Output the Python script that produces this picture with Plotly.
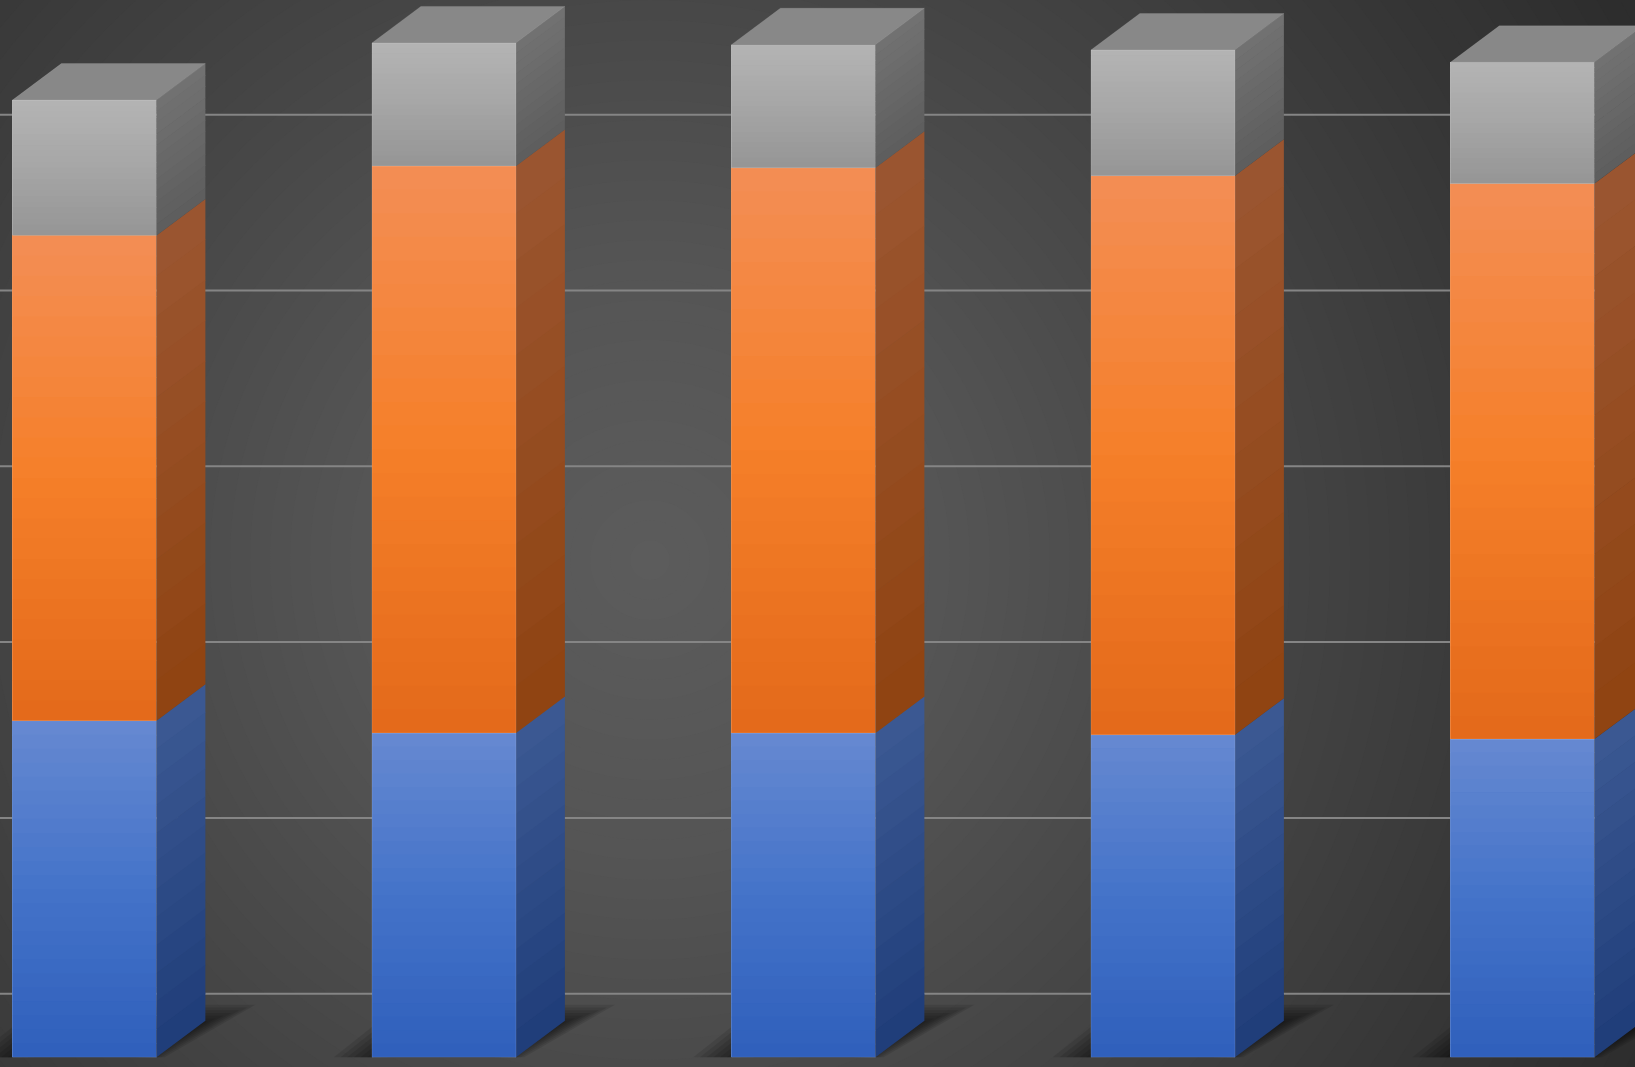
import plotly.graph_objects as go

# ── Dados ──────────────────────────────────────────────────────────────────────
categorias    = ["Cat 1", "Cat 2", "Cat 3", "Cat 4", "Cat 5"]
serie_azul    = [38.3, 36.9, 36.9, 36.7, 36.2]
serie_laranja = [55.2, 64.5, 64.3, 63.6, 63.2]
serie_cinza   = [15.4, 14.0, 14.0, 14.3, 13.8]
grade_vals    = [0, 20, 40, 60, 80, 100]

# ── Estilo ─────────────────────────────────────────────────────────────────────
W, H     = 1635, 1067
BAR_W    = 0.4006       # largura da face frontal (unidades de x)
DX, DY   = 0.136, 4.15  # profundidade 3D
WALL_DY  = 7.24         # deslocamento da parede do fundo
X_RANGE  = [-0.235, 4.313]
Y_RANGE  = [-1.10, 120.28]
N_FRENTE = 24
N_LADO   = 12

ESTILOS = [
    # (frente: topo, meio, base), (lado: topo, base), cor média
    (["#6689d1", "#4473c9", "#2f5fbb"], ["#3c5993", "#1f3d79"], "#4472c4"),
    (["#f38e55", "#f57f29", "#e3691a"], ["#9b5631", "#8f4311"], "#ed7d31"),
    (["#b4b4b4", "#a6a6a6", "#959595"], ["#727272", "#5d5d5d"], "#a5a5a5"),
]
COR_TOPO  = "#888888"
COR_GRADE = "#858585"


def _hex_rgb(h):
    h = h.lstrip("#")
    return tuple(int(h[i:i + 2], 16) for i in (0, 2, 4))


def _mix(stops, t):
    """Interpola entre cores igualmente espaçadas; t=0 topo, t=1 base."""
    n = len(stops) - 1
    k = min(int(t * n), n - 1)
    f = t * n - k
    a, b = _hex_rgb(stops[k]), _hex_rgb(stops[k + 1])
    return "rgb({},{},{})".format(*(round(a[j] + (b[j] - a[j]) * f) for j in range(3)))


def _cinza(v):
    v = max(0, min(255, round(v)))
    return f"rgb({v},{v},{v})"


shapes = []

# ── Fundo com gradiente radial ─────────────────────────────────────────────────
CX, CY = 650, 560
perfil = [(0, 92), (300, 85), (600, 70), (900, 55), (1200, 42)]


def _lum(d):
    for (d0, v0), (d1, v1) in zip(perfil, perfil[1:]):
        if d <= d1:
            return v0 + (v1 - v0) * (d - d0) / (d1 - d0)
    return perfil[-1][1]


N_BG = 60
R_MAX = 1200
for k in range(N_BG):
    r = R_MAX * (1 - k / N_BG)
    shapes.append(dict(
        type="circle", xref="paper", yref="paper", layer="below",
        x0=(CX - r) / W, x1=(CX + r) / W,
        y0=1 - (CY + r) / H, y1=1 - (CY - r) / H,
        fillcolor=_cinza(_lum(r)), line=dict(width=0),
    ))

# ── Linhas de grade (parede do fundo) ──────────────────────────────────────────
for v in grade_vals:
    shapes.append(dict(
        type="line", xref="paper", yref="y", layer="below",
        x0=0, x1=1, y0=v + WALL_DY, y1=v + WALL_DY,
        line=dict(color=COR_GRADE, width=2),
    ))

# ── Sombras no chão (paralelogramo desfocado em camadas) ───────────────────────
hw = BAR_W / 2
SOMBRA = [(-0.26, 0.0), (0.20, 0.0), (0.42, 5.2), (-0.10, 5.2)]
for i in range(len(categorias)):
    cx = i + 0.05
    for k in range(10):
        s = 1.15 - 0.06 * k
        pts = [(cx + (i + px - cx) * s, py * s) for px, py in SOMBRA]
        path = "M " + " L ".join(f"{x},{y}" for x, y in pts) + " Z"
        shapes.append(dict(
            type="path", xref="x", yref="y", layer="below", path=path,
            fillcolor="rgba(0,0,0,0.10)", line=dict(width=0),
        ))

# ── Faces 3D com gradiente ─────────────────────────────────────────────────────
series = [serie_azul, serie_laranja, serie_cinza]
eps = 0.08
for i in range(len(categorias)):
    base = 0.0
    for s, serie in enumerate(series):
        frente, lado, _ = ESTILOS[s]
        y0, y1 = base, base + serie[i]
        h = y1 - y0
        # frente
        for j in range(N_FRENTE):
            yt = y1 - h * j / N_FRENTE
            yb = y1 - h * (j + 1) / N_FRENTE
            if j < N_FRENTE - 1:
                yb -= eps
            shapes.append(dict(
                type="rect", xref="x", yref="y", layer="above",
                x0=i - hw, x1=i + hw, y0=yb, y1=yt,
                fillcolor=_mix(frente, (j + 0.5) / N_FRENTE), line=dict(width=0),
            ))
        # lado
        xa, xb = i + hw, i + hw + DX
        for j in range(N_LADO):
            yt = y1 - h * j / N_LADO
            yb = y1 - h * (j + 1) / N_LADO
            if j < N_LADO - 1:
                yb -= eps
            path = (f"M {xa},{yb} L {xb},{yb + DY} L {xb},{yt + DY} "
                    f"L {xa},{yt} Z")
            shapes.append(dict(
                type="path", xref="x", yref="y", layer="above", path=path,
                fillcolor=_mix(lado, (j + 0.5) / N_LADO), line=dict(width=0),
            ))
        # contorno suave da frente
        shapes.append(dict(
            type="rect", xref="x", yref="y", layer="above",
            x0=i - hw, x1=i + hw, y0=y0, y1=y1,
            line=dict(color="rgba(255,255,255,0.12)", width=1),
        ))
        base = y1
    # topo
    topo = base
    path = (f"M {i - hw},{topo} L {i + hw},{topo} L {i + hw + DX},{topo + DY} "
            f"L {i - hw + DX},{topo + DY} Z")
    shapes.append(dict(
        type="path", xref="x", yref="y", layer="above", path=path,
        fillcolor=COR_TOPO, line=dict(color="rgba(255,255,255,0.10)", width=1),
    ))

# ── Figura ─────────────────────────────────────────────────────────────────────
fig = go.Figure()
xpos = list(range(len(categorias)))
for s, (serie, nome) in enumerate(zip(series, ["Série 1", "Série 2", "Série 3"])):
    fig.add_trace(go.Bar(
        x=xpos, y=serie, name=nome, width=BAR_W,
        marker=dict(color=ESTILOS[s][2], line=dict(width=0)),
        customdata=categorias,
        hovertemplate="%{customdata}: %{y}<extra>" + nome + "</extra>",
    ))

fig.update_layout(
    barmode="stack",
    width=W, height=H,
    margin=dict(l=0, r=0, t=0, b=0),
    paper_bgcolor="#2c2c2c",
    plot_bgcolor="rgba(0,0,0,0)",
    showlegend=False,
    xaxis=dict(range=X_RANGE, visible=False, showgrid=False, zeroline=False),
    yaxis=dict(range=Y_RANGE, visible=False, showgrid=False, zeroline=False),
    shapes=shapes,
)

fig.write_html(
    "out.html",
    config={"displayModeBar": False},
    post_script="document.body.style.margin='0';document.body.style.overflow='hidden';",
)
